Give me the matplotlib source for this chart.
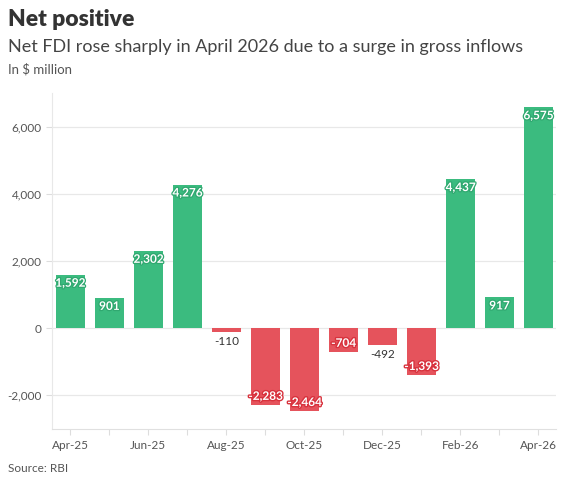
import matplotlib.pyplot as plt
import matplotlib.patheffects as pe
import numpy as np

plt.rcParams['font.family'] = ['Lato', 'DejaVu Sans']

months = ['Apr-25', 'May-25', 'Jun-25', 'Jul-25', 'Aug-25', 'Sep-25', 'Oct-25',
          'Nov-25', 'Dec-25', 'Jan-26', 'Feb-26', 'Mar-26', 'Apr-26']
net_fdi = [1592, 901, 2302, 4276, -110, -2283, -2464, -704, -492, -1393, 4437, 917, 6575]

green = '#3bbb7f'
red = '#e5535c'

fig = plt.figure(figsize=(5.8, 4.78), dpi=100)
ax = fig.add_axes([0.0897, 0.1025, 0.869, 0.703])

x = np.arange(len(months))
colors = [green if v >= 0 else red for v in net_fdi]
ax.bar(x, net_fdi, width=0.76, color=colors, zorder=3)

unit = 10000 / 336  # data units per pixel
for xi, v, c in zip(x, net_fdi, colors):
    txt = f'{v:,}'
    if abs(v) < 600:
        ax.text(xi, v - 4 * unit, txt, ha='center', va='top', fontsize=8.5,
                color='#333333', zorder=4)
    elif v > 0:
        ax.text(xi, v - 3 * unit, txt, ha='center', va='top', fontsize=8.5,
                fontweight='bold', color='white', zorder=4,
                path_effects=[pe.withStroke(linewidth=1.8, foreground='#30a870')])
    else:
        ax.text(xi, v + 3 * unit, txt, ha='center', va='bottom', fontsize=8.5,
                fontweight='bold', color='white', zorder=4,
                path_effects=[pe.withStroke(linewidth=2, foreground='#d8323d')])

ax.set_ylim(-3000, 7000)
ax.set_xlim(-0.47, 12.45)
ax.set_yticks([-2000, 0, 2000, 4000, 6000])
ax.yaxis.set_major_formatter(plt.FuncFormatter(lambda v, _: f'{int(v):,}'))
ax.set_xticks(x)
ax.set_xticklabels([m if i % 2 == 0 else '' for i, m in enumerate(months)])

ax.grid(axis='y', color='#e8e8e8', linewidth=0.9, zorder=0)
ax.set_axisbelow(True)
for s in ['top', 'right']:
    ax.spines[s].set_visible(False)
ax.spines['left'].set_color('#e8e8e8')
ax.spines['bottom'].set_color('#e0e0e0')
ax.tick_params(axis='both', colors='#dddddd', labelcolor='#555555', labelsize=8.5, length=4)
ax.tick_params(axis='x', pad=4)

fig.text(0.014, 0.945, 'Net positive', fontsize=16.5, fontweight='heavy', color='#333333')
fig.text(0.014, 0.891, 'Net FDI rose sharply in April 2026 due to a surge in gross inflows',
         fontsize=13, color='#444444')
fig.text(0.014, 0.846, 'In $ million', fontsize=9.5, color='#555555')
fig.text(0.014, 0.012, 'Source: RBI', fontsize=8.5, color='#555555')

plt.savefig('out.png', dpi=100)
